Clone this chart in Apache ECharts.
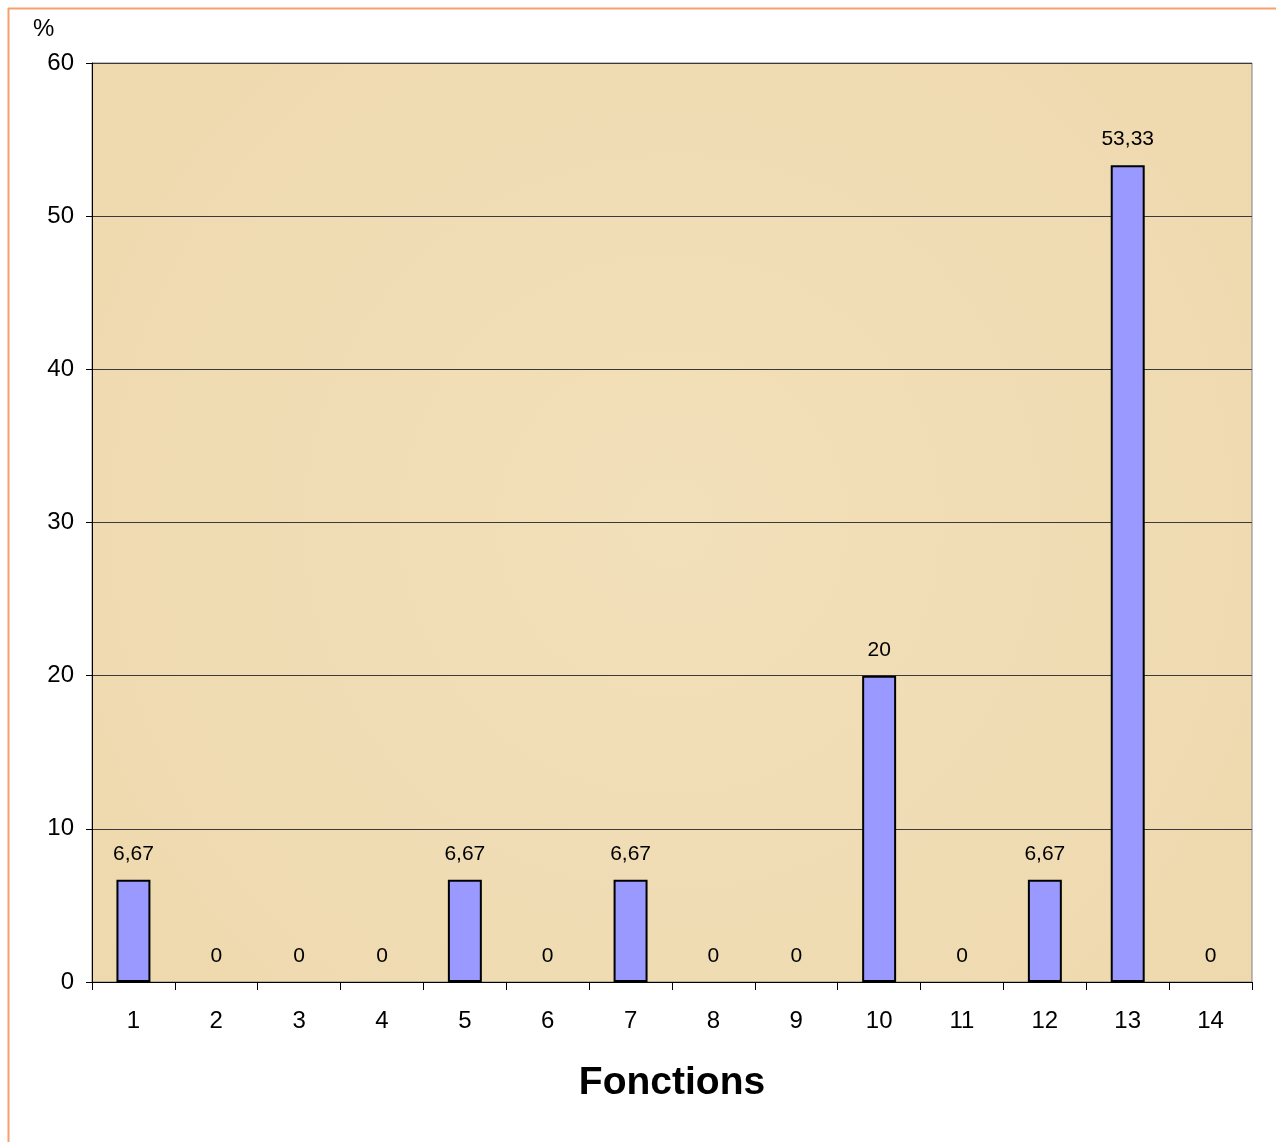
<!DOCTYPE html>
<html><head><meta charset="utf-8">
<script src="https://cdn.jsdelivr.net/npm/echarts@6/dist/echarts.min.js"></script>
<style>html,body{margin:0;padding:0;background:#fff}#c{width:1276px;height:1142px}</style>
</head><body><div id="c"></div>
<script>
var categories = ['1','2','3','4','5','6','7','8','9','10','11','12','13','14'];
var values = [6.67, 0, 0, 0, 6.67, 0, 6.67, 0, 0, 20, 0, 6.67, 53.33, 0];
var yTicks = [0, 10, 20, 30, 40, 50, 60];

var barData = values.map(function (v) {
  return v === 0 ? {value: v, itemStyle: {borderWidth: 0, opacity: 0}} : v;
});

var chart = echarts.init(document.getElementById('c'));
chart.setOption({
  animation: false,
  textStyle: {fontFamily: 'Liberation Sans, Arial, sans-serif'},
  graphic: [
    {type: 'line', shape: {x1: 8, y1: 8.5, x2: 1276, y2: 8.5}, style: {stroke: '#F7A06E', lineWidth: 2}},
    {type: 'line', shape: {x1: 8.5, y1: 8, x2: 8.5, y2: 1142}, style: {stroke: '#F7A06E', lineWidth: 2}},
    {type: 'text', left: 33, top: 17, style: {text: '%', fontSize: 24, fill: '#000', fontFamily: 'Liberation Sans, Arial, sans-serif'}}
  ],
  grid: {left: 92, top: 63, width: 1160, height: 919, show: true,
    backgroundColor: {type: 'radial', x: 0.5, y: 0.5, r: 0.9, colorStops: [{offset: 0, color: '#F2E0BA'}, {offset: 1, color: '#EED8AD'}]},
    borderColor: '#808080', borderWidth: 1},
  xAxis: {
    type: 'category', data: categories,
    name: 'Fonctions', nameLocation: 'middle', nameGap: 82,
    nameTextStyle: {fontSize: 39, fontWeight: 'bold', color: '#000'},
    axisLine: {lineStyle: {color: '#000', width: 1}},
    axisTick: {show: true, length: 8, lineStyle: {color: '#000'}},
    axisLabel: {fontSize: 24, color: '#000', margin: 27}
  },
  yAxis: {
    type: 'value', min: 0, max: 60, interval: 10,
    axisLine: {show: true, lineStyle: {color: '#000', width: 1}},
    axisTick: {show: true, length: 6, lineStyle: {color: '#000'}},
    axisLabel: {fontSize: 24, color: '#000', margin: 18,
      formatter: function (v) { return yTicks.indexOf(v) >= 0 ? String(v) : ''; }},
    splitLine: {lineStyle: {color: '#3a3a3a', width: 1}}
  },
  series: [{
    type: 'bar', data: barData, barWidth: '41%',
    itemStyle: {color: '#9999FF', borderColor: '#000', borderWidth: 2},
    label: {show: true, position: 'top', distance: 15, fontSize: 21, color: '#000', opacity: 1,
      formatter: function (p) { return String(p.value).replace('.', ','); }}
  }]
});
</script></body></html>
